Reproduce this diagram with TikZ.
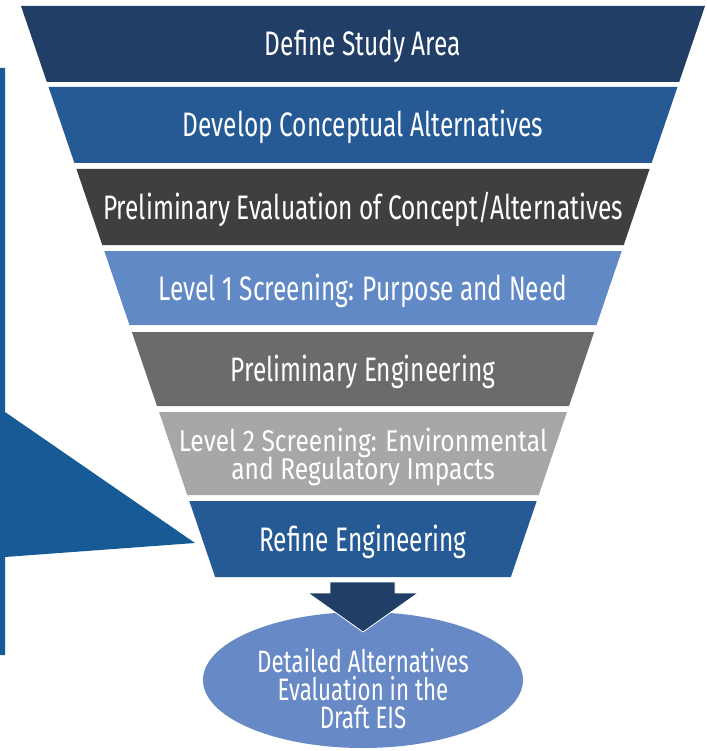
\documentclass[tikz,border=0pt]{standalone}
\usepackage{fontspec}
\setmainfont{Fira Sans}[FakeStretch=0.72]
\newfontfamily\widerfont{Fira Sans}[FakeStretch=0.82]
\usetikzlibrary{shapes.geometric}
\definecolor{navy}{HTML}{213F66}
\definecolor{midblue}{HTML}{265A94}
\definecolor{darkgray}{HTML}{3F3F3F}
\definecolor{lightblue}{HTML}{6189C6}
\definecolor{midgray}{HTML}{6B6B6D}
\definecolor{lightgray}{HTML}{A7A7A9}
\definecolor{sideblue}{HTML}{165B96}
\definecolor{ellblue}{HTML}{6789C5}
\tikzset{
  lbl/.style={text=white, inner sep=0pt, anchor=base, font=\fontsize{34}{34}\selectfont},
  lblsmall/.style={text=white, inner sep=0pt, anchor=base, text height=21pt, text depth=0pt, font=\widerfont\fontsize{30}{30}\selectfont},
  lblell/.style={text=white, inner sep=0pt, anchor=base, text height=22pt, text depth=0pt, font=\fontsize{31}{31}\selectfont},
}
\begin{document}
\begin{tikzpicture}[x=1pt,y=-1pt]
\useasboundingbox (0,0) rectangle (706,751);
% left side shape
\fill[sideblue] (0,68) -- (5,68) -- (5,412) -- (195,543) -- (5,557) -- (5,655) -- (0,655) -- cycle;
% funnel bands
\fill[navy] (21,6) -- (705,6) -- (679.16,82) -- (46.84,82) -- cycle;
\fill[midblue] (48.54,87) -- (677.46,87) -- (651.62,163) -- (74.38,163) -- cycle;
\fill[darkgray] (76.42,169) -- (649.58,169) -- (623.74,245) -- (102.26,245) -- cycle;
\fill[lightblue] (104.3,251) -- (621.7,251) -- (596.54,325) -- (129.46,325) -- cycle;
\fill[midgray] (131.84,332) -- (594.16,332) -- (569,406) -- (157,406) -- cycle;
\fill[lightgray] (159.04,412) -- (566.96,412) -- (538.74,495) -- (187.26,495) -- cycle;
\fill[midblue] (189.3,501) -- (536.7,501) -- (510.86,577) -- (215.14,577) -- cycle;
% ellipse
\node[ellipse, fill=ellblue, minimum width=320pt, minimum height=136pt, inner sep=0pt] (eis) at (363,680) {};
% arrow
\filldraw[fill=navy, draw=white, line width=0.8pt] (330,582) -- (395,582) -- (395,593) -- (418,593) -- (363,632) -- (308,593) -- (330,593) -- cycle;
% labels
\node[lbl] (b1) at (363,56) {Define Study Area};
\node[lbl] (b2) at (363,137) {Develop Conceptual Alternatives};
\node[lbl] (b3) at (363,219) {Preliminary Evaluation of Concept/Alternatives};
\node[lbl] (b4) at (363,300) {Level 1 Screening: Purpose and Need};
\node[lbl] (b5) at (363,381) {Preliminary Engineering};
\node[lblsmall] (b6a) at (363,451) {Level 2 Screening: Environmental};
\node[lblsmall] (b6b) at (363,479) {and Regulatory Impacts};
\node[lbl] (b7) at (363,551) {Refine Engineering};
\node[lblell] (e1) at (363,672) {Detailed Alternatives};
\node[lblell] (e2) at (363,700) {Evaluation in the};
\node[lblell] (e3) at (363,728) {Draft EIS};
\end{tikzpicture}
\end{document}
